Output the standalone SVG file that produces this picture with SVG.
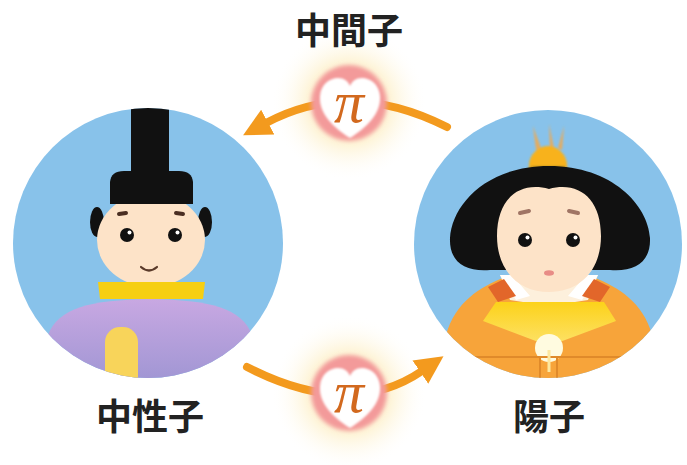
<svg xmlns="http://www.w3.org/2000/svg" width="687" height="465" viewBox="0 0 687 465">
  <style>
    .label { font-family: "Noto Sans CJK JP", "Noto Sans CJK SC", sans-serif; font-weight: 700; font-size: 36px; fill: #222; text-anchor: middle; }
    .pi { font-family: "Liberation Serif", "DejaVu Serif", serif; font-style: italic; font-size: 60px; fill: #d2691e; text-anchor: middle; }
    .arrow { fill: none; stroke: #f39a1e; stroke-width: 8; stroke-linecap: round; }
    .sky { fill: #88c2ea; }
    .skin { fill: #fde3c8; }
    .eye { fill: #111; }
    .glint { fill: #fff; }
    .brow { stroke: #4a2e22; stroke-width: 4; stroke-linecap: round; fill: none; }
  </style>
  <defs>
    <marker id="head" markerUnits="userSpaceOnUse" markerWidth="40" markerHeight="40" refX="2" refY="16" orient="auto" viewBox="0 0 40 32">
      <path d="M0,2 L28,16 L0,30 Z" fill="#f39a1e"/>
    </marker>
    <radialGradient id="glow" cx="0.5" cy="0.5" r="0.5">
      <stop offset="0" stop-color="#fde3a0" stop-opacity="0.95"/>
      <stop offset="0.55" stop-color="#fdeec2" stop-opacity="0.6"/>
      <stop offset="1" stop-color="#ffffff" stop-opacity="0"/>
    </radialGradient>
    <linearGradient id="robe" x1="0" y1="0" x2="0" y2="1">
      <stop offset="0" stop-color="#c8a8e2"/>
      <stop offset="1" stop-color="#9c94d2"/>
    </linearGradient>
    <linearGradient id="fan" x1="0" y1="0" x2="0" y2="1">
      <stop offset="0" stop-color="#fcd21a"/>
      <stop offset="1" stop-color="#fde26a"/>
    </linearGradient>
    <filter id="soft" x="-30%" y="-30%" width="160%" height="160%">
      <feGaussianBlur stdDeviation="2.2"/>
    </filter>
    <filter id="softer" x="-30%" y="-30%" width="160%" height="160%">
      <feGaussianBlur stdDeviation="1.2"/>
    </filter>
    <clipPath id="clipLeft"><circle cx="148" cy="243" r="135"/></clipPath>
    <clipPath id="clipRight"><circle cx="548" cy="244" r="134"/></clipPath>
    <path id="heart" d="M0,32 C-22,18 -31,4 -30,-10 C-29,-22 -20,-28 -12,-28 C-6,-28 -2,-25 0,-20 C2,-25 6,-28 12,-28 C20,-28 29,-22 30,-10 C31,4 22,18 0,32 Z"/>
  </defs>

  <rect width="687" height="465" fill="#ffffff"/>

  <!-- glows behind the exchange particles -->
  <circle cx="349" cy="103" r="78" fill="url(#glow)"/>
  <circle cx="349" cy="393" r="78" fill="url(#glow)"/>

  <!-- neutron: the emperor doll -->
  <g id="neutron">
    <circle class="sky" cx="148" cy="243" r="135"/>
    <g clip-path="url(#clipLeft)">
      <path d="M35,390 L48,335 C58,308 90,300 150,299 C210,300 242,308 252,335 L265,390 Z" fill="url(#robe)"/>
      <rect x="105" y="327" width="33" height="70" rx="15" fill="#f8d45a"/>
      <ellipse cx="97" cy="222" rx="7" ry="15" fill="#111"/>
      <ellipse cx="205" cy="222" rx="7" ry="15" fill="#111"/>
      <ellipse class="skin" cx="151" cy="240" rx="54" ry="47"/>
      <path d="M98,282 L205,282 L203,299 L100,299 Z" fill="#f6cf12"/>
      <rect x="131" y="106" width="38" height="72" rx="3" fill="#111"/>
      <path d="M110,204 L110,182 Q111,171 124,171 L179,171 Q192,171 193,182 L193,204 Z" fill="#111"/>
      <path class="brow" d="M119,214 L126,213"/>
      <path class="brow" d="M176,213 L183,214"/>
      <circle class="eye" cx="127" cy="235" r="7"/>
      <circle class="eye" cx="175" cy="235" r="7"/>
      <circle class="glint" cx="129.5" cy="232.5" r="2"/>
      <circle class="glint" cx="177.5" cy="232.5" r="2"/>
      <path d="M141,267 Q149,274 157,267" fill="none" stroke="#5a3a2a" stroke-width="2.2" stroke-linecap="round"/>
    </g>
  </g>

  <!-- proton: the empress doll -->
  <g id="proton">
    <circle class="sky" cx="548" cy="244" r="134"/>
    <g clip-path="url(#clipRight)">
      <!-- crown -->
      <g filter="url(#softer)">
        <path d="M536,150 L533,126 L541,148 Z M550,150 L549,124 L554,148 Z M562,150 L564,126 L558,148 Z" fill="#f5a848" opacity="0.85"/>
        <path d="M529,168 C528,155 538,146 548,146 C558,146 568,155 567,168 Z" fill="#f8b21a"/>
        <path d="M518,176 L532,166 L564,166 L579,176 Z" fill="#b08a20"/>
      </g>
      <!-- hair -->
      <path d="M549,166 C612,166 648,205 650,238 C651,262 635,272 610,270 L490,270 C465,272 449,262 450,238 C452,205 486,166 549,166 Z" fill="#111"/>
      <!-- robe -->
      <path d="M430,400 L446,335 C455,302 480,287 505,277 L593,277 C618,287 643,302 652,335 L668,400 Z" fill="#f7a43a"/>
      <path d="M500,275 L598,275 L588,300 L549,306 L510,300 Z" fill="#fdf0dc"/>
      <path d="M500,275 L512,275 L530,296 L516,300 Z M598,275 L586,275 L568,296 L582,300 Z" fill="#ffffff"/>
      <path d="M488,287 L504,279 L516,296 L498,302 Z" fill="#e2662a"/>
      <path d="M610,287 L594,279 L582,296 L600,302 Z" fill="#e2662a"/>
      <!-- face -->
      <path class="skin" d="M497,236 C497,198 520,181 549,189 C578,181 601,198 601,236 C601,270 580,292 549,292 C518,292 497,270 497,236 Z"/>
      <path d="M520,213 L529,211" stroke="#a07565" stroke-width="4" stroke-linecap="round" fill="none"/>
      <path d="M569,211 L578,213" stroke="#a07565" stroke-width="4" stroke-linecap="round" fill="none"/>
      <circle class="eye" cx="525" cy="240" r="7"/>
      <circle class="eye" cx="573" cy="240" r="7"/>
      <circle class="glint" cx="527.5" cy="237.5" r="2"/>
      <circle class="glint" cx="575.5" cy="237.5" r="2"/>
      <ellipse cx="549" cy="273" rx="5" ry="2.8" fill="#e88c86"/>
      <!-- fan -->
      <path d="M483,321 L496,302 L604,302 L616,321 L549,346 Z" fill="url(#fan)"/>
      <circle cx="549" cy="348" r="14" fill="#fffbe0"/>
      <!-- hem lines -->
      <path d="M458,357 L640,357" stroke="#e08a2a" stroke-width="2" fill="none"/>
      <path d="M540,357 L540,385 M557,357 L557,385" stroke="#e08a2a" stroke-width="2" fill="none"/>
      <path d="M549,350 L549,372" stroke="#fde8a0" stroke-width="3" fill="none"/>
    </g>
  </g>

  <!-- exchange arrows -->
  <g id="connectors">
    <path class="arrow" d="M447,127 Q350,78 266,123" marker-end="url(#head)"/>
    <path class="arrow" d="M247,367 Q350,420 422,371" marker-end="url(#head)"/>
  </g>

  <!-- pi meson badges -->
  <g id="meson-top">
    <circle cx="349" cy="103" r="38" fill="#f39a9a" filter="url(#soft)"/>
    <use href="#heart" transform="translate(350,106)" fill="#ffffff" filter="url(#softer)"/>
    <text class="pi" x="349" y="122">π</text>
  </g>
  <g id="meson-bottom">
    <circle cx="349" cy="393" r="38" fill="#f39a9a" filter="url(#soft)"/>
    <use href="#heart" transform="translate(350,396)" fill="#ffffff" filter="url(#softer)"/>
    <text class="pi" x="349" y="412">π</text>
  </g>

  <!-- labels -->
  <g id="labels">
    <text class="label" x="349" y="44">中間子</text>
    <text class="label" x="150" y="430">中性子</text>
    <text class="label" x="549" y="430">陽子</text>
  </g>
</svg>
